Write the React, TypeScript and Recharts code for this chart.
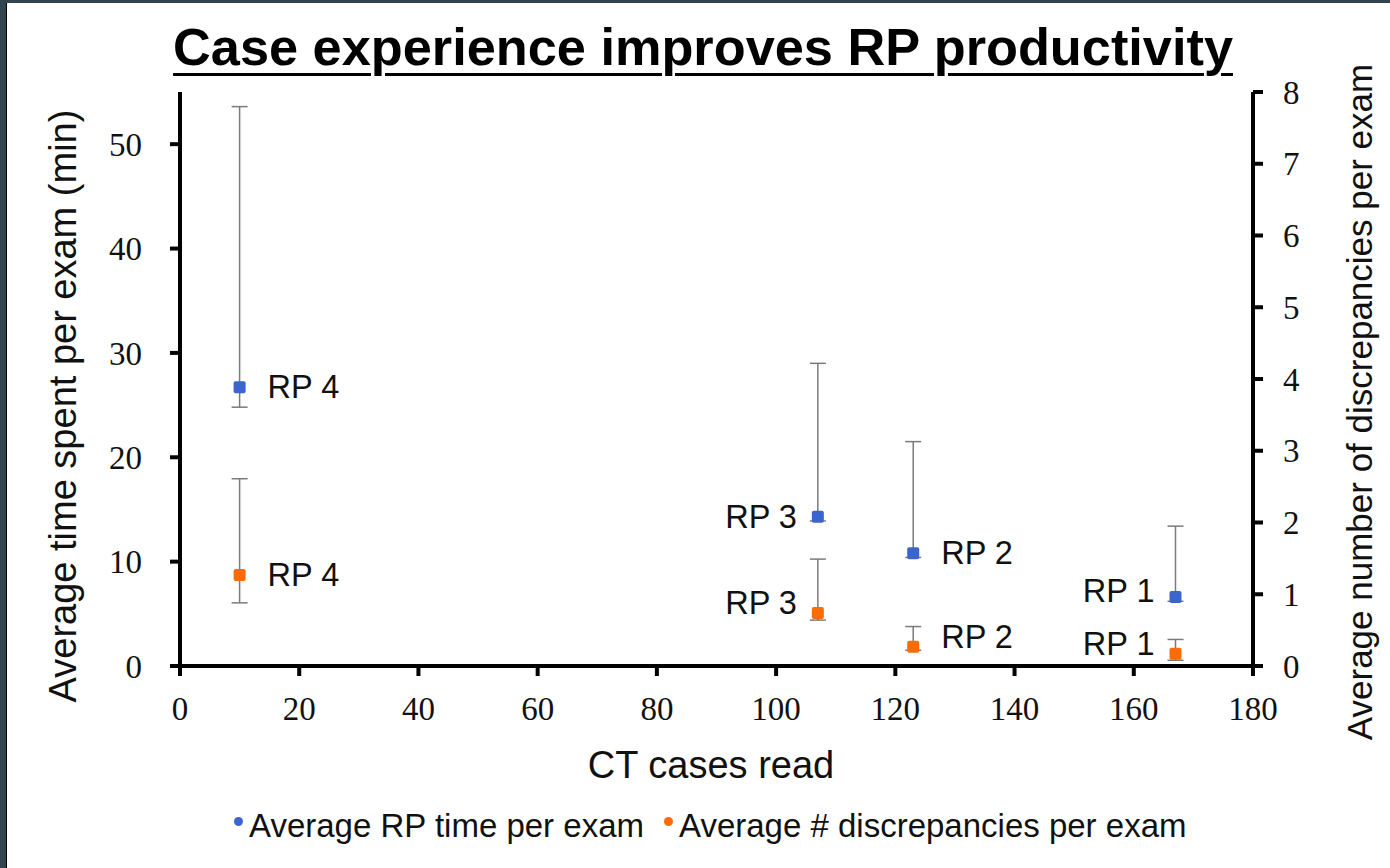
import { ScatterChart, Scatter, XAxis, YAxis, ErrorBar } from "recharts";

const READERS = ["RP 4", "RP 3", "RP 2", "RP 1"];
const CASES_READ = [10, 107, 123, 167];

// minutes per exam, mean with low / high ends of the bar
const TIME_MEAN = [26.7, 14.3, 10.8, 6.6];
const TIME_LOW = [24.8, 13.9, 10.4, 6.2];
const TIME_HIGH = [53.6, 29.0, 21.5, 13.4];

// discrepancies per exam
const DISC_MEAN = [1.27, 0.74, 0.27, 0.17];
const DISC_LOW = [0.88, 0.64, 0.22, 0.08];
const DISC_HIGH = [2.61, 1.49, 0.55, 0.37];

const X_TICKS = [0, 20, 40, 60, 80, 100, 120, 140, 160, 180];
const LEFT_TICKS = [0, 10, 20, 30, 40, 50];
const RIGHT_TICKS = [0, 1, 2, 3, 4, 5, 6, 7, 8];

const BLUE = "#3b64cc";
const ORANGE = "#fb6c08";
const SANS = "'Liberation Sans', Arial, sans-serif";
const SERIF = "'Liberation Serif', 'Times New Roman', serif";

const timeData = READERS.map((name, i) => ({
  name,
  x: CASES_READ[i],
  y: TIME_MEAN[i],
  err: [TIME_MEAN[i] - TIME_LOW[i], TIME_HIGH[i] - TIME_MEAN[i]],
}));

const discData = READERS.map((name, i) => ({
  name,
  x: CASES_READ[i],
  y: DISC_MEAN[i],
  err: [DISC_MEAN[i] - DISC_LOW[i], DISC_HIGH[i] - DISC_MEAN[i]],
}));

// which side of the marker the reader name sits on
const labelOnLeft: Record<string, boolean> = { "RP 4": false, "RP 3": true, "RP 2": false, "RP 1": true };

const makeMarker = (color: string, series: "time" | "disc") => (props: any) => {
  const { cx, cy, payload } = props;
  const left = labelOnLeft[payload.name];
  let dy = 0;
  if (series === "disc" && payload.name !== "RP 4") dy = -10;
  if (series === "time" && payload.name === "RP 1") dy = -6;
  return (
    <g>
      <rect x={cx - 6} y={cy - 6} width={12} height={12} rx={2} fill={color} />
      <text
        x={left ? cx - 21 : cx + 28}
        y={cy + dy}
        textAnchor={left ? "end" : "start"}
        dominantBaseline="central"
        fontFamily={SANS}
        fontSize={32.5}
        fill="#111"
      >
        {payload.name}
      </text>
    </g>
  );
};

const tickStyle = { fontFamily: SERIF, fontSize: 33, fill: "#111" };
const axisStroke = { stroke: "#000", strokeWidth: 4 };

export default function App() {
  return (
    <div style={{ position: "absolute", left: 0, top: 0, width: 1390, height: 868, background: "#fff", overflow: "hidden" }}>
      <div style={{ position: "absolute", left: 0, top: 0, width: 6, height: 868, background: "#34444f" }} />
      <div style={{ position: "absolute", left: 6, top: 0, width: 1, height: 868, background: "#000" }} />
      <div style={{ position: "absolute", left: 0, top: 0, width: 1390, height: 3, background: "#34444f" }} />

      <div
        style={{
          position: "absolute",
          left: 0,
          top: 22,
          width: 1406,
          textAlign: "center",
          fontFamily: SANS,
          fontWeight: "bold",
          fontSize: 52.3,
          lineHeight: "50px",
          color: "#000",
          textDecoration: "underline",
          textDecorationThickness: 3,
          textUnderlineOffset: 8,
        }}
      >
        Case experience improves RP productivity
      </div>

      <div style={{ position: "absolute", left: 0, top: 0 }}>
        <ScatterChart width={1390} height={868} margin={{ top: 92, right: 37, bottom: 122, left: 20 }}>
          <XAxis
            type="number"
            dataKey="x"
            domain={[0, 180]}
            ticks={X_TICKS}
            height={80}
            axisLine={axisStroke}
            tickLine={axisStroke}
            tickSize={10}
            tickMargin={21}
            tick={tickStyle}
            label={{
              content: () => (
                <text x={711} y={778} textAnchor="middle" fontFamily={SANS} fontSize={38} fill="#111">
                  CT cases read
                </text>
              ),
            }}
          />
          <YAxis
            yAxisId="left"
            type="number"
            dataKey="y"
            domain={[0, 55]}
            ticks={LEFT_TICKS}
            width={160}
            axisLine={axisStroke}
            tickLine={axisStroke}
            tickSize={10}
            tickMargin={28}
            tick={tickStyle}
            label={{
              content: () => (
                <text
                  x={63}
                  y={406}
                  transform="rotate(-90 63 406)"
                  textAnchor="middle"
                  dominantBaseline="central"
                  fontFamily={SANS}
                  fontSize={38}
                  fill="#111"
                >
                  Average time spent per exam (min)
                </text>
              ),
            }}
          />
          <YAxis
            yAxisId="right"
            orientation="right"
            type="number"
            dataKey="y"
            domain={[0, 8]}
            ticks={RIGHT_TICKS}
            width={100}
            axisLine={axisStroke}
            tickLine={axisStroke}
            tickSize={10}
            tickMargin={20}
            tick={tickStyle}
            label={{
              content: () => (
                <text
                  x={1359}
                  y={402}
                  transform="rotate(-90 1359 402)"
                  textAnchor="middle"
                  dominantBaseline="central"
                  fontFamily={SANS}
                  fontSize={35}
                  fill="#111"
                >
                  Average number of discrepancies per exam
                </text>
              ),
            }}
          />
          <Scatter yAxisId="left" data={timeData} fill={BLUE} shape={makeMarker(BLUE, "time")} isAnimationActive={false}>
            <ErrorBar dataKey="err" direction="y" width={8} stroke="#7a7a7a" strokeWidth={1.5} isAnimationActive={false} />
          </Scatter>
          <Scatter yAxisId="right" data={discData} fill={ORANGE} shape={makeMarker(ORANGE, "disc")} isAnimationActive={false}>
            <ErrorBar dataKey="err" direction="y" width={8} stroke="#7a7a7a" strokeWidth={1.5} isAnimationActive={false} />
          </Scatter>
        </ScatterChart>
      </div>

      <div
        style={{
          position: "absolute",
          left: 234,
          top: 807,
          display: "flex",
          alignItems: "center",
          fontFamily: SANS,
          fontSize: 33,
          lineHeight: "38px",
          color: "#111",
          whiteSpace: "nowrap",
        }}
      >
        <span style={{ width: 9, height: 9, borderRadius: "50%", background: BLUE, marginRight: 6, transform: "translateY(-5px)" }} />
        <span>Average RP time per exam</span>
        <span style={{ width: 9, height: 9, borderRadius: "50%", background: ORANGE, margin: "0 6px 0 20px", transform: "translateY(-5px)" }} />
        <span>Average # discrepancies per exam</span>
      </div>
    </div>
  );
}
